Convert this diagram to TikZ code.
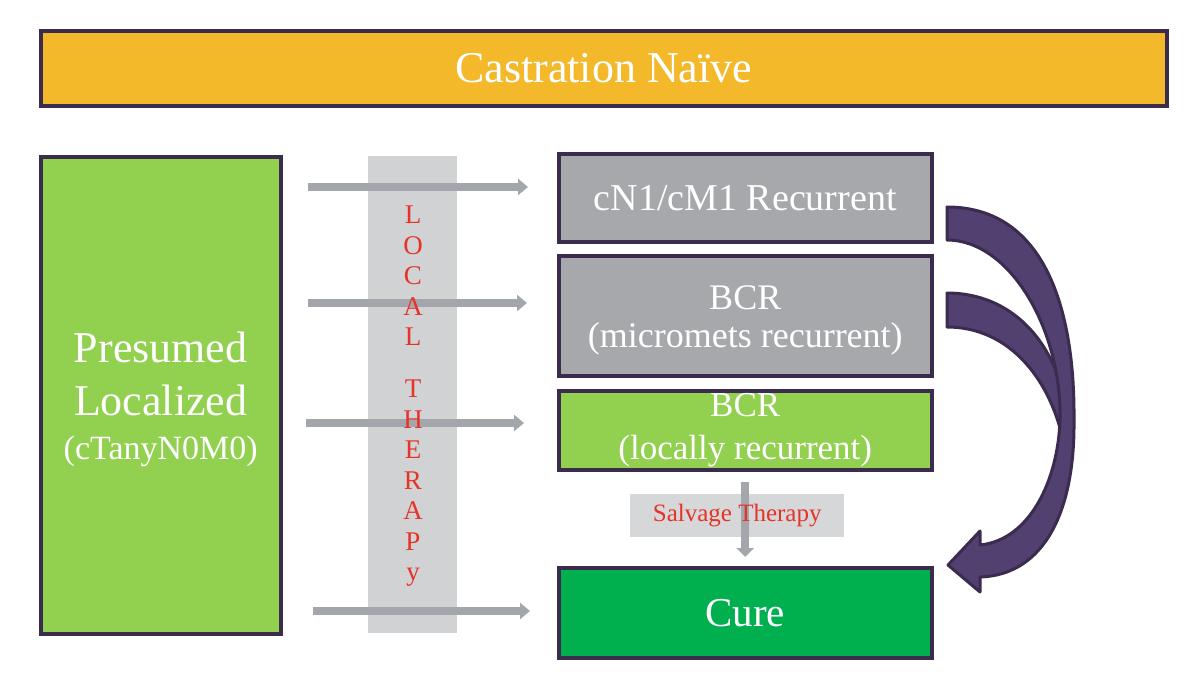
\documentclass[tikz,border=0pt]{standalone}
\usepackage{fontspec}
\setmainfont{Liberation Serif}
\usepackage{xcolor}
\usetikzlibrary{positioning,arrows.meta}
\definecolor{naive}{HTML}{F4B92B}
\definecolor{leaf}{HTML}{92D050}
\definecolor{cured}{HTML}{00B04F}
\definecolor{stone}{HTML}{A6A8AC}
\definecolor{frame}{HTML}{3B2C4E}
\definecolor{column}{HTML}{D1D2D4}
\definecolor{feedgray}{HTML}{A3A6AB}
\definecolor{redtext}{HTML}{E5332A}
\definecolor{plum}{HTML}{524070}
\definecolor{plumedge}{HTML}{3A2B4F}

\begin{document}
\begin{tikzpicture}[x=1pt, y=-1pt,
        box/.style={draw=frame, line width=3.5pt, anchor=north west, inner sep=0pt, text=white, align=center},
        feed/.style={draw=feedgray, line width=8pt, -{Triangle[length=10pt, width=16pt]}},
        sweep/.style={fill=plum, draw=plumedge, line width=3pt, line join=round}
    ]
        \useasboundingbox (0,0) rectangle (1200,697);

        % Header
        \node [box, fill=naive, minimum width=1126pt, minimum height=75pt, font=\fontsize{44}{52}\selectfont] (naive) at (39,29) {Castration Na\"ive};

        % Starting state
        \node [box, fill=leaf, minimum width=240pt, minimum height=477pt, font=\fontsize{44}{53}\selectfont] (pres) at (39,155) {\rule{0pt}{39pt}Presumed\\Localized\\[-9pt]{\fontsize{34}{44}\selectfont (cTanyN0M0)}};

        % Local therapy band
        \node [fill=column, anchor=north west, inner sep=0pt, minimum width=89pt, minimum height=477pt] (local) at (368,156) {};

        % Outcomes
        \node [box, fill=stone, minimum width=373pt, minimum height=88pt, font=\fontsize{38}{44}\selectfont] (rec) at (557,152) {cN1/cM1 Recurrent};
        \node [box, fill=stone, minimum width=373pt, minimum height=120pt, font=\fontsize{36}{38}\selectfont] (micro) at (557,254) {\rule{0pt}{34pt}BCR\\(micromets recurrent)};
        \node [box, fill=leaf, minimum width=373pt, minimum height=79pt, font=\fontsize{35}{43}\selectfont] (locrec) at (557,389) {BCR\\(locally recurrent)};
        \node [box, fill=cured, minimum width=373pt, minimum height=90pt, font=\fontsize{41}{48}\selectfont] (cure) at (557,566) {Cure};

        % Arrows through local therapy
        \coordinate (f1) at (308,187);
        \coordinate (t1) at (528,187);
        \coordinate (f2) at (308,303);
        \coordinate (t2) at (527,303);
        \coordinate (f3) at (306,423);
        \coordinate (t3) at (524,423);
        \coordinate (f4) at (313,611);
        \coordinate (t4) at (530,611);
        \draw [feed] (f1) -- (t1);
        \draw [feed] (f2) -- (t2);
        \draw [feed] (f3) -- (t3);
        \draw [feed] (f4) -- (t4);

        \node [anchor=north, inner sep=0pt, text=redtext, align=center, font=\fontsize{27}{30.5}\selectfont] (lt) at (413,206) {L\\O\\C\\A\\L\\[21.5pt]T\\H\\E\\R\\A\\P\\y};

        % Salvage therapy
        \node [fill=column!90!white, anchor=north west, inner sep=0pt, minimum width=214pt, minimum height=43pt] (salv) at (630,494) {};
        \draw [draw=feedgray, line width=8pt, -{Triangle[length=9pt, width=17pt]}] ([yshift=-10pt]locrec.south) -- ([yshift=9pt]cure.north);
        \node [text=redtext, font=\fontsize{25}{30}\selectfont] (salvtxt) at (salv.center) {Salvage Therapy};

        % Curved arrows to cure
        \draw [sweep] (947,293) .. controls (1010,293) and (1060,340) .. (1069,425) -- (1063,440) .. controls (1050,380) and (1010,327) .. (947,327) -- cycle;
        \draw [sweep] (947,207) .. controls (1045,207) and (1075,310) .. (1074,420) .. controls (1075,510) and (1045,575) .. (980,577) -- (980,592) -- (948,565) -- (980,531) -- (980,545) .. controls (1030,540) and (1058,480) .. (1060,420) .. controls (1062,330) and (1010,240) .. (947,240) -- cycle;
    \end{tikzpicture}
\end{document}
